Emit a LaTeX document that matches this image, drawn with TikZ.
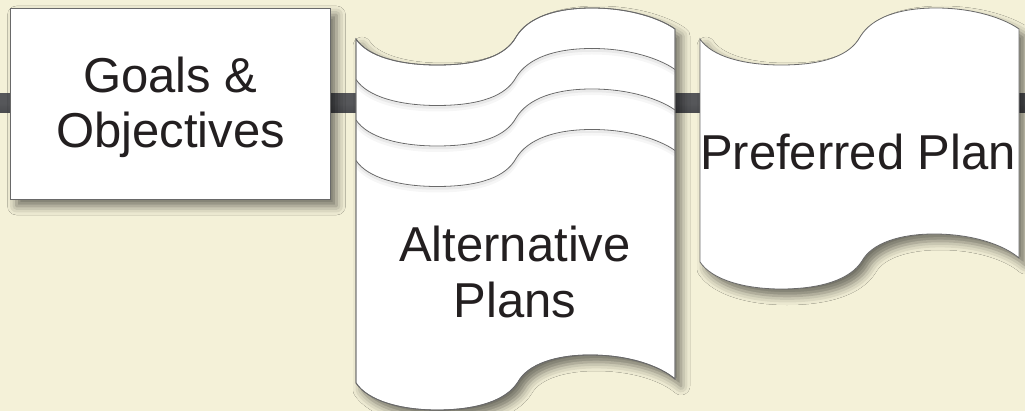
\documentclass[tikz,border=0pt]{standalone}
\usepackage{fontspec}
\setmainfont{Liberation Sans}
\usetikzlibrary{shadows.blur}
\definecolor{bgc}{RGB}{244,241,216}
\definecolor{barD}{RGB}{74,75,78}
\definecolor{barM}{RGB}{86,87,90}
\definecolor{edge}{RGB}{105,105,105}
\definecolor{txt}{RGB}{35,31,32}
\tikzset{
  shad/.style={blur shadow={shadow xshift=6pt, shadow yshift=-7pt, shadow blur radius=9pt, shadow opacity=55}},
  outline/.style={draw=edge, line width=0.8pt, fill=white},
  lbl/.style={font=\fontsize{49}{55}\selectfont, text=txt, inner sep=0pt, anchor=base},
  docpath/.style={insert path={(0,0) .. controls (12,18) and (45,26) .. (81,26)
     .. controls (125,26) and (150,16) .. (160,-2)
     .. controls (172,-22) and (200,-31) .. (236,-31)
     .. controls (275,-31) and (305,-20) .. (319,-10)
     -- (319,#1-4)
     .. controls (305,#1-16) and (275,#1-28) .. (234,#1-28)
     .. controls (200,#1-28) and (172,#1-19) .. (162,#1-1)
     .. controls (150,#1+18) and (120,#1+27) .. (81,#1+27)
     .. controls (45,#1+27) and (12,#1+18) .. (0,#1) -- cycle}},
  wavepath/.style={insert path={(0,#1) .. controls (12,#1+18) and (45,#1+26) .. (81,#1+26)
     .. controls (125,#1+26) and (150,#1+16) .. (160,#1-2)
     .. controls (172,#1-22) and (200,#1-31) .. (236,#1-31)
     .. controls (275,#1-31) and (305,#1-20) .. (319,#1-10)}},
  innershadowA/.style={draw=black, line width=5pt, opacity=0.035},
  innershadowB/.style={draw=black, line width=2.5pt, opacity=0.05},
  innerline/.style={draw=edge, line width=0.8pt}
}
\begin{document}
\begin{tikzpicture}[x=1pt,y=-1pt]
\useasboundingbox (0,0) rectangle (1025,411);
\fill[bgc] (0,0) rectangle (1025,411);
% connector bar
\coordinate (barW) at (0,94);
\coordinate (barE) at (1025,112.5);
\shade[top color=barM, bottom color=barD, middle color=barM] (barW) rectangle (barE);

% Goals & Objectives box
\node[outline, shad, minimum width=320pt, minimum height=191pt, inner sep=0pt] (goals) at (170.5,103.5) {};
\node[lbl] (goals1) at (170.5,93) {Goals \&};
\node[lbl] (goals2) at (170.5,148) {Objectives};

% Alternative Plans (stacked documents)
\begin{scope}[shift={(356,39)}]
  \path[outline, shad, docpath=344];
  \begin{scope}
    \clip[docpath=344];
    \foreach \o in {40.5,81,121.5}{
      \path[innershadowA, shift={(0,3.5)}] [wavepath=\o];
      \path[innershadowB, shift={(0,2)}] [wavepath=\o];
      \path[innerline] [wavepath=\o];
    }
  \end{scope}
  \path[draw=edge, line width=0.8pt, docpath=344];
\end{scope}
\node[lbl] (alt1) at (515,262) {Alternative};
\node[lbl] (alt2) at (515,318) {Plans};

% Preferred Plan
\begin{scope}[shift={(700,39)}]
  \path[outline, shad, docpath=223];
\end{scope}
\node[lbl] (pref) at (858,170) {Preferred Plan};
\end{tikzpicture}
\end{document}
